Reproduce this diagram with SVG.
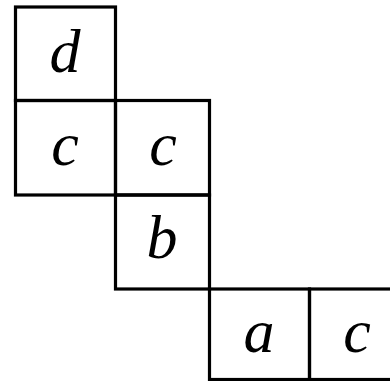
<svg xmlns="http://www.w3.org/2000/svg" width="390" height="381" viewBox="0 0 390 381">
<style>
.cell{fill:none;stroke:#000;stroke-width:3.2}
.lbl{font-family:"Liberation Serif","DejaVu Serif",serif;font-style:italic;font-size:62px;text-anchor:middle;fill:#000}
</style>
<rect width="390" height="381" fill="#fff"/>
<g id="cell-d"><rect class="cell" x="15.5" y="7" width="100" height="93.5"/><text class="lbl" x="65" y="72">d</text></g>
<g id="cell-c1"><rect class="cell" x="15.5" y="100.5" width="100" height="94.5"/><text class="lbl" x="65" y="165">c</text></g>
<g id="cell-c2"><rect class="cell" x="115.5" y="100.5" width="94" height="94.5"/><text class="lbl" x="163" y="165">c</text></g>
<g id="cell-b"><rect class="cell" x="115.5" y="195" width="94" height="94"/><text class="lbl" x="162" y="258">b</text></g>
<g id="cell-a"><rect class="cell" x="209.5" y="289" width="100" height="90.5"/><text class="lbl" x="259" y="352">a</text></g>
<g id="cell-c3"><rect class="cell" x="309.5" y="289" width="94" height="90.5"/><text class="lbl" x="357" y="352">c</text></g>
</svg>
